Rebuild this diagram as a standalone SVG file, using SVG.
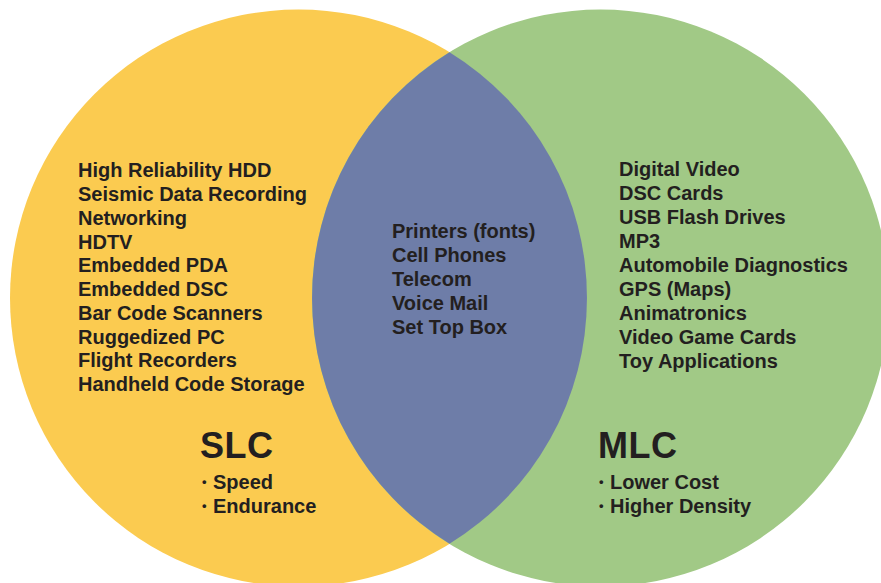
<svg xmlns="http://www.w3.org/2000/svg" width="881" height="583" viewBox="0 0 881 583">
  <style>
    .item { font-family: "Liberation Sans", Arial, Helvetica, sans-serif; font-weight: bold; font-size: 20px; fill: #231f20; }
    .title { font-family: "Liberation Sans", Arial, Helvetica, sans-serif; font-weight: bold; font-size: 36px; letter-spacing: 0.5px; fill: #231f20; }
    .dot { font-size: 13px; }
  </style>
  <rect width="881" height="583" fill="#ffffff"/>

  <!-- SLC set (left circle) -->
  <g id="slc">
    <circle cx="298.5" cy="298" r="288.5" fill="#fbcb50"/>
    <text class="item" x="78" y="177">High Reliability HDD</text>
    <text class="item" x="78" y="201">Seismic Data Recording</text>
    <text class="item" x="78" y="225">Networking</text>
    <text class="item" x="78" y="249">HDTV</text>
    <text class="item" x="78" y="272">Embedded PDA</text>
    <text class="item" x="78" y="296">Embedded DSC</text>
    <text class="item" x="78" y="320">Bar Code Scanners</text>
    <text class="item" x="78" y="344">Ruggedized PC</text>
    <text class="item" x="78" y="367">Flight Recorders</text>
    <text class="item" x="78" y="391">Handheld Code Storage</text>
    <text class="title" x="200" y="458">SLC</text>
    <text class="item" x="202" y="489"><tspan class="dot" dy="-3">•</tspan><tspan x="213" dy="3">Speed</tspan></text>
    <text class="item" x="202" y="513"><tspan class="dot" dy="-3">•</tspan><tspan x="213" dy="3">Endurance</tspan></text>
  </g>

  <!-- MLC set (right circle) -->
  <g id="mlc">
    <circle cx="600.5" cy="298" r="288.5" fill="#a1c986"/>
    <text class="item" x="619" y="176">Digital Video</text>
    <text class="item" x="619" y="200">DSC Cards</text>
    <text class="item" x="619" y="224">USB Flash Drives</text>
    <text class="item" x="619" y="248">MP3</text>
    <text class="item" x="619" y="272">Automobile Diagnostics</text>
    <text class="item" x="619" y="296">GPS (Maps)</text>
    <text class="item" x="619" y="320">Animatronics</text>
    <text class="item" x="619" y="344">Video Game Cards</text>
    <text class="item" x="619" y="368">Toy Applications</text>
    <text class="title" x="598" y="458">MLC</text>
    <text class="item" x="599" y="489"><tspan class="dot" dy="-3">•</tspan><tspan x="610" dy="3">Lower Cost</tspan></text>
    <text class="item" x="599" y="513"><tspan class="dot" dy="-3">•</tspan><tspan x="610" dy="3">Higher Density</tspan></text>
  </g>

  <!-- Shared uses (overlap lens) -->
  <g id="both">
    <path d="M449.5,52.2 A288.5,288.5 0 0 1 449.5,543.8 A288.5,288.5 0 0 1 449.5,52.2 Z" fill="#6e7da8"/>
    <text class="item" x="392" y="238">Printers (fonts)</text>
    <text class="item" x="392" y="262">Cell Phones</text>
    <text class="item" x="392" y="286">Telecom</text>
    <text class="item" x="392" y="310">Voice Mail</text>
    <text class="item" x="392" y="334">Set Top Box</text>
  </g>

  <!-- no connectors in this diagram -->
  <g id="connectors"/>
</svg>
